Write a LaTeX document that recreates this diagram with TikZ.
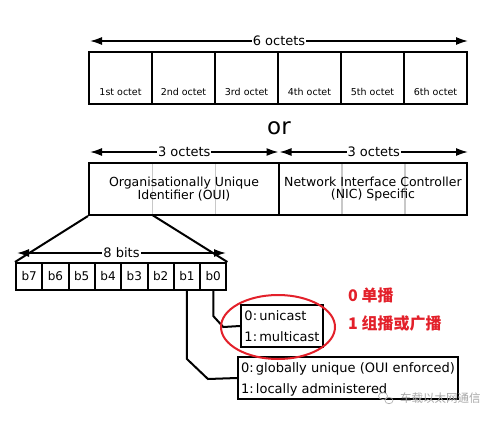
\documentclass[tikz,border=0pt]{standalone}
\usepackage{fontspec}
\setmainfont{DejaVu Sans}
\newfontfamily\cjk{Noto Sans CJK SC}
\usetikzlibrary{arrows.meta}
\definecolor{ringred}{HTML}{E3202A}
\definecolor{divgray}{HTML}{C8C8C8}
\definecolor{wmgray}{HTML}{A8A8A8}
\tikzset{
  box/.style={draw, line width=2pt, inner sep=0pt},
  octet/.style={box, minimum width=63pt, minimum height=52pt},
  octlbl/.style={font=\fontsize{9.5}{11}\selectfont, inner sep=0pt},
  bitbox/.style={box, minimum width=26.3pt, minimum height=27pt, font=\fontsize{12}{14}\selectfont},
  dimarrow/.style={line width=1.6pt, {Latex[length=12pt,width=8pt]}-{Latex[length=12pt,width=8pt]}},
  dimlbl/.style={fill=white, inner sep=1pt, font=\fontsize{13}{15}\selectfont},
  field/.style={box, minimum height=52pt, align=center, font=\fontsize{12.5}{12}\selectfont},
  divider/.style={divgray, line width=1.5pt},
  conn/.style={line width=2pt},
  legend/.style={box, minimum height=42pt, align=left, text depth=0pt, font=\fontsize{13}{20.5}\selectfont, inner xsep=2pt},
  redtxt/.style={ringred, anchor=west, inner sep=0pt, font=\cjk\bfseries\fontsize{16}{18}\selectfont},
}
\begin{document}
\begin{tikzpicture}[x=1pt,y=-1pt]
\useasboundingbox (0,0) rectangle (500,421);
\fill[white] (0,0) rectangle (500,421);

% top row: 6 octets
\coordinate (s6l) at (90,41);
\coordinate (s6r) at (468,41);
\draw[dimarrow] (s6l) -- node[dimlbl] (l6) {6 octets} (s6r);
\foreach \i/\t in {1/1st octet,2/2nd octet,3/3rd octet,4/4th octet,5/5th octet,6/6th octet}{
  \node[octet] (o\i) at ({89+63*(\i-0.5)},78) {};
  \node[octlbl] (t\i) at ([yshift=-14pt]o\i.center) {\t};
}

\node[font=\fontsize{23}{25}\selectfont, inner sep=0pt] (or) at (279,128) {or};

% second row
\coordinate (s3a) at (90,152);
\coordinate (s3b) at (278.5,152);
\coordinate (s3c) at (279.5,152);
\coordinate (s3d) at (468,152);
\draw[dimarrow] (s3a) -- node[dimlbl] (l3a) {3 octets} (s3b);
\draw[dimarrow] (s3c) -- node[dimlbl] (l3b) {3 octets} (s3d);

\coordinate (d1t) at (152.3,163); \coordinate (d1b) at (152.3,215);
\coordinate (d2t) at (215.7,163); \coordinate (d2b) at (215.7,215);
\coordinate (d3t) at (342,163);   \coordinate (d3b) at (342,215);
\coordinate (d4t) at (405,163);   \coordinate (d4b) at (405,215);
\draw[divider] (d1t) -- (d1b);
\draw[divider] (d2t) -- (d2b);
\draw[divider] (d3t) -- (d3b);
\draw[divider] (d4t) -- (d4b);
\node[field, minimum width=190pt] (oui) at (184,189) {Organisationally Unique\\Identifier (OUI)};
\node[field, minimum width=188pt] (nic) at (373,189) {Network Interface Controller\\(NIC) Specific};

% bits
\foreach \i/\t in {0/b7,1/b6,2/b5,3/b4,4/b3,5/b2,6/b1,7/b0}{
  \node[bitbox] (\t) at ({16+26.3*(\i+0.5)},276.5) {\t};
}
\draw[conn] (oui.south west) -- (b7.north west);
\draw[conn] (d1b) -- (b0.north east);
\coordinate (s8l) at (17,253);
\coordinate (s8r) at (226,253);
\draw[dimarrow] (s8l) -- node[dimlbl, fill=white] (l8) {8 bits} (s8r);

% legends
\node[legend, minimum width=82pt, anchor=west] (lg1) at (240,326) {0:\,unicast\\1:\,multicast};
\node[legend, minimum width=220pt, anchor=west] (lg2) at (237,378) {0:\,globally unique (OUI enforced)\\1:\,locally administered};

\draw[conn] (b0.south) -- ++(0,25) -- ++(10,11) -- (lg1.west);
\draw[conn] (b1.south) -- ++(0,68) -- ++(21,20) -- (lg2.west);

% red annotation
\draw[ringred, line width=2pt] (278,327) ellipse [x radius=57, y radius=32];
\node[redtxt] (r0) at (348,295) {0 单播};
\node[redtxt] (r1) at (348,323) {1 组播或广播};

% watermark
\draw[wmgray, line width=0.6pt] (383,396) ellipse [x radius=4.5, y radius=3.6];
\draw[wmgray, line width=0.6pt] (389,400.5) ellipse [x radius=4, y radius=3.2];
\node[wmgray, anchor=west, inner sep=0pt, font=\cjk\fontsize{11.5}{13}\selectfont] (wm) at (400,398) {车载以太网通信};
\end{tikzpicture}
\end{document}
